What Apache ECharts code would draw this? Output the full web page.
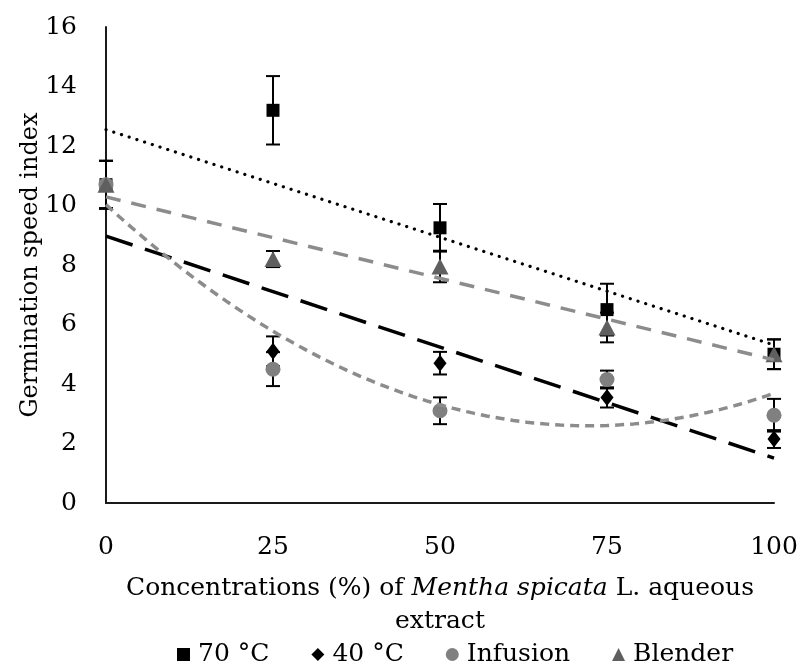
<!DOCTYPE html>
<html>
<head>
<meta charset="utf-8">
<script src="https://cdn.jsdelivr.net/npm/echarts@6/dist/echarts.min.js"></script>
<style>html,body{margin:0;padding:0;background:#fff}#c{width:801px;height:668px}</style>
</head>
<body>
<div id="c"></div>
<script>
const concentrations = [0, 25, 50, 75, 100];
const xTicks = [0, 25, 50, 75, 100];
const yTicks = [0, 2, 4, 6, 8, 10, 12, 14, 16];
const seriesNames = ['70 °C', '40 °C', 'Infusion', 'Blender'];
const gsi70 = [10.7, 13.2, 9.25, 6.5, 5.0];
const err70 = [0.8, 1.15, 0.8, 0.87, 0.5];
const gsi40 = [10.7, 5.1, 4.7, 3.55, 2.15];
const err40 = [0.8, 0.5, 0.38, 0.34, 0.3];
const gsiInf = [10.7, 4.5, 3.1, 4.15, 2.95];
const errInf = [0.8, 0.57, 0.45, 0.3, 0.55];
const gsiBl = [10.7, 8.2, 7.95, 5.9, 5.0];
const errBl = [0.8, 0.27, 0.53, 0.5, 0.5];
// trendline types as in the source: linear, linear, polynomial (order 2), linear
const trendOrder = [1, 1, 2, 1];

const FONT = 'DejaVu Serif';

function polyfit(xs, ys, deg) {
  const n = deg + 1;
  const A = [];
  for (let i = 0; i < n; i++) {
    A.push([]);
    for (let j = 0; j < n; j++) {
      let s = 0; xs.forEach(x => s += Math.pow(x, i + j)); A[i].push(s);
    }
    let s = 0; xs.forEach((x, k) => s += Math.pow(x, i) * ys[k]); A[i].push(s);
  }
  for (let c = 0; c < n; c++) {
    let p = c;
    for (let r = c + 1; r < n; r++) if (Math.abs(A[r][c]) > Math.abs(A[p][c])) p = r;
    [A[c], A[p]] = [A[p], A[c]];
    for (let r = 0; r < n; r++) {
      if (r === c) continue;
      const f = A[r][c] / A[c][c];
      for (let k = c; k <= n; k++) A[r][k] -= f * A[c][k];
    }
  }
  return A.map((row, i) => row[n] / row[i]);
}
function trend(ys, deg) {
  const co = polyfit(concentrations, ys, deg);
  const pts = [];
  const step = deg === 1 ? 100 : 1;
  for (let x = 0; x <= 100; x += step) {
    let y = 0; co.forEach((c, i) => y += c * Math.pow(x, i));
    pts.push([x, y]);
  }
  return pts;
}

const values = [gsi70, gsi40, gsiInf, gsiBl];
const errors = [err70, err40, errInf, errBl];
const symbols = ['rect', 'diamond', 'circle', 'triangle'];
const symSizes = [[13, 13], [13, 17], 15, [17, 16]];
const colors = ['#000000', '#000000', '#808080', '#5f5f5f'];
const trendStyles = [
  {color: '#000000', width: 3.2, type: [0.1, 8], cap: 'round'},
  {color: '#000000', width: 3.5, type: [28, 13], cap: 'butt'},
  {color: '#8c8c8c', width: 3.5, type: [9, 6], cap: 'butt'},
  {color: '#8c8c8c', width: 3.5, type: [15, 11], cap: 'butt'}
];

const series = [];
values.forEach((vals, s) => {
  series.push({
    name: seriesNames[s] + ' err', type: 'custom', z: 1,
    data: concentrations.map((x, i) => [x, vals[i], errors[s][i]]),
    renderItem: function (params, api) {
      const x = api.value(0), y = api.value(1), e = api.value(2);
      const t = api.coord([x, y + e]), b = api.coord([x, y - e]);
      const w = 7, st = {stroke: '#000', lineWidth: 2};
      return {type: 'group', children: [
        {type: 'line', shape: {x1: t[0], y1: t[1], x2: b[0], y2: b[1]}, style: st},
        {type: 'line', shape: {x1: t[0] - w, y1: t[1], x2: t[0] + w, y2: t[1]}, style: st},
        {type: 'line', shape: {x1: b[0] - w, y1: b[1], x2: b[0] + w, y2: b[1]}, style: st}
      ]};
    },
    silent: true
  });
});
values.forEach((vals, s) => {
  series.push({
    name: seriesNames[s], type: 'scatter', z: 3,
    symbol: symbols[s], symbolSize: symSizes[s],
    itemStyle: {color: colors[s], opacity: 1},
    data: concentrations.map((x, i) => [x, vals[i]])
  });
});
values.forEach((vals, s) => {
  const ts = trendStyles[s];
  series.push({
    name: seriesNames[s] + ' trend', type: 'line', z: 4, symbol: 'none',
    data: trend(vals, trendOrder[s]),
    lineStyle: {color: ts.color, width: ts.width, type: ts.type, cap: ts.cap},
    silent: true
  });
});

const chart = echarts.init(document.getElementById('c'), null, {renderer: 'canvas'});
chart.setOption({
  animation: false,
  backgroundColor: '#ffffff',
  grid: {left: 106, right: 27, top: 27, bottom: 165, containLabel: false},
  xAxis: {
    type: 'value', min: 0, max: 100, interval: 25,
    axisLine: {show: true, lineStyle: {color: '#1a1a1a', width: 2}},
    axisTick: {show: false}, splitLine: {show: false},
    axisLabel: {fontFamily: FONT, fontSize: 25, color: '#000', margin: 32,
      formatter: v => xTicks.includes(v) ? String(v) : ''},
    name: 'Concentrations (%) of {i|Mentha spicata} L. aqueous\nextract',
    nameLocation: 'middle', nameGap: 69,
    nameTextStyle: {fontFamily: FONT, fontSize: 25, color: '#000', lineHeight: 33,
      rich: {i: {fontFamily: FONT, fontSize: 25, fontStyle: 'italic', color: '#000'}}}
  },
  yAxis: {
    type: 'value', min: 0, max: 16, interval: 2,
    axisLine: {show: true, lineStyle: {color: '#1a1a1a', width: 2}},
    axisTick: {show: false}, splitLine: {show: false},
    axisLabel: {fontFamily: FONT, fontSize: 25, color: '#000', margin: 29,
      formatter: v => yTicks.includes(v) ? String(v) : ''},
    name: 'Germination speed index', nameLocation: 'middle', nameGap: 63,
    nameMoveOverlap: false,
    nameTextStyle: {fontFamily: FONT, fontSize: 24, color: '#000'}
  },
  legend: {
    data: seriesNames.map((n, s) => ({name: n, icon: ['rect', 'diamond', 'circle', 'triangle'][s]})),
    top: 637, left: 172, itemGap: 42, itemWidth: 13, itemHeight: 13,
    textStyle: {fontFamily: FONT, fontSize: 25, color: '#000', padding: [0, 0, 0, 3]}
  },
  series: series
});
</script>
</body>
</html>
